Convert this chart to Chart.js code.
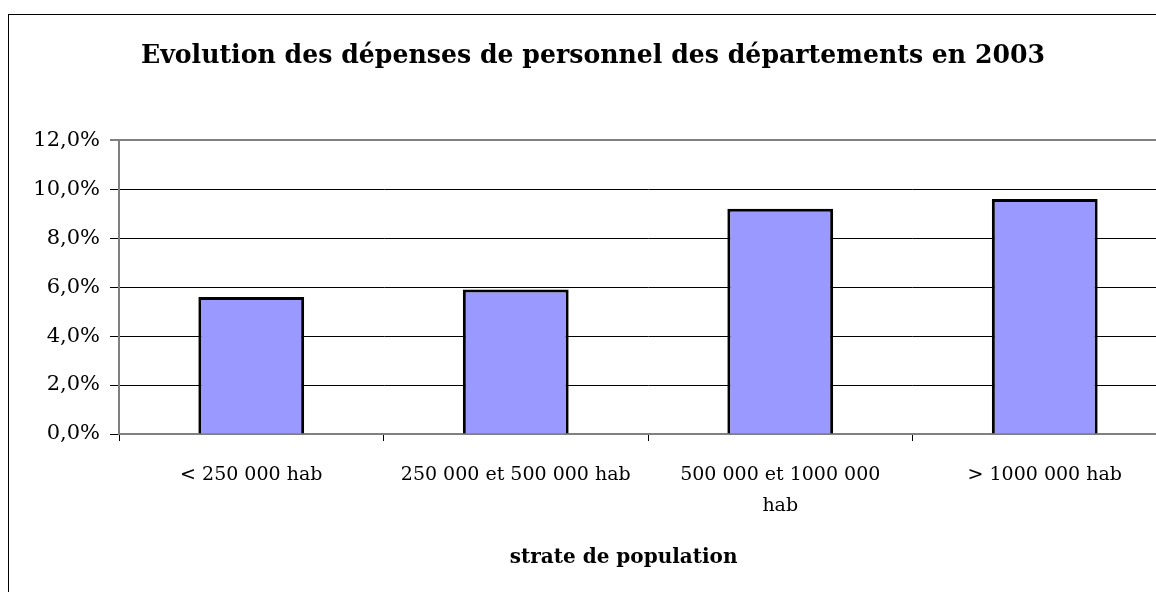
<!DOCTYPE html>
<html>
<head>
<meta charset="utf-8">
<script src="https://cdn.jsdelivr.net/npm/chart.js@4"></script>
<style>
    html, body { margin: 0; padding: 0; background: #fff; overflow: hidden; }
    #frame {
        position: absolute;
        left: 8px;
        top: 14px;
        width: 1200px;
        height: 620px;
        border: 1px solid #000;
    }
    #chart { display: block; }
</style>
</head>
<body>
<div id="frame">
    <canvas id="chart" width="1180" height="577"></canvas>
</div>
<script>
    // strates de population
    const categories = [
        '< 250 000 hab',
        '250 000 et 500 000 hab',
        ['500 000 et 1000 000', 'hab'],
        '> 1000 000 hab'
    ];
    // évolution 2003, en %
    const evolution = [5.6, 5.9, 9.2, 9.6];
    const yTicks = [0, 2, 4, 6, 8, 10, 12];

    const serif = "'DejaVu Serif', serif";

    function formatPct(v) {
        return v.toFixed(1).replace('.', ',') + '%';
    }

    new Chart(document.getElementById('chart'), {
        type: 'bar',
        data: {
            labels: categories,
            datasets: [{
                label: 'Evolution',
                data: evolution,
                backgroundColor: '#9999FF',
                borderColor: '#000000',
                borderWidth: 3,
                barPercentage: 0.4,
                categoryPercentage: 1
            }]
        },
        options: {
            responsive: false,
            animation: false,
            layout: { padding: { left: 0, right: 12, top: 0, bottom: 0 } },
            plugins: {
                legend: { display: false },
                tooltip: { enabled: false },
                title: {
                    display: true,
                    text: 'Evolution des dépenses de personnel des départements en 2003',
                    color: '#000',
                    font: { family: serif, size: 25.2, weight: 'bold' },
                    padding: { top: 26, bottom: 69 }
                }
            },
            scales: {
                x: {
                    afterFit: function(scale) { scale.height = 158; },
                    grid: {
                        offset: true,
                        drawOnChartArea: false,
                        drawTicks: true,
                        tickLength: 7,
                        color: '#000'
                    },
                    border: { color: '#808080', width: 2 },
                    ticks: {
                        color: '#000',
                        padding: 18,
                        maxRotation: 0,
                        autoSkip: false,
                        font: { family: serif, size: 19, lineHeight: 1.65 }
                    },
                    title: {
                        display: true,
                        // trailing spaces nudge the title left, like the original
                        text: 'strate de population' + '\u00A0'.repeat(7),
                        color: '#000',
                        font: { family: serif, size: 20, weight: 'bold' },
                        padding: { top: 0, bottom: 22 }
                    }
                },
                y: {
                    min: 0,
                    max: 12,
                    afterFit: function(scale) { scale.width = 110; },
                    afterBuildTicks: function(scale) {
                        scale.ticks = yTicks.map(v => ({ value: v }));
                    },
                    grid: {
                        color: ctx => (ctx.tick && ctx.tick.value === 12) ? '#808080' : '#000',
                        lineWidth: ctx => (ctx.tick && ctx.tick.value === 12) ? 2 : 1,
                        tickLength: 9
                    },
                    border: { color: '#808080', width: 2 },
                    ticks: {
                        color: '#000',
                        padding: 10,
                        font: { family: serif, size: 21 },
                        callback: value => formatPct(value)
                    }
                }
            }
        }
    });
</script>
</body>
</html>
